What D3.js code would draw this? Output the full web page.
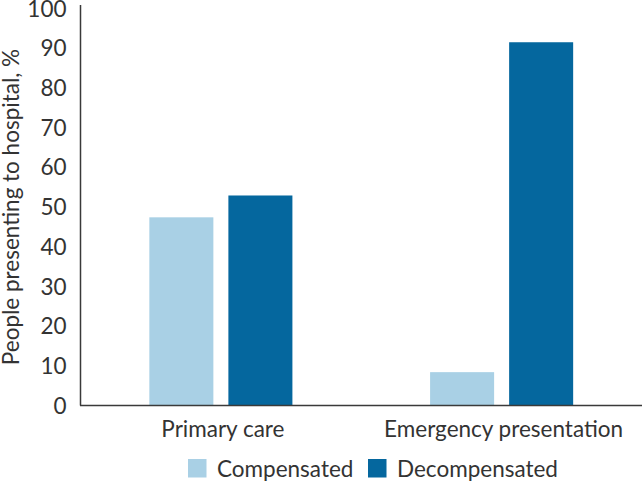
<!DOCTYPE html>
<html>
<head>
<meta charset="utf-8">
<script src="https://cdn.jsdelivr.net/npm/d3@7"></script>
<style>
  html, body { margin: 0; padding: 0; background: #fff; }
  svg { display: block; font-family: Lato, "Open Sans", sans-serif; }
</style>
</head>
<body>
<svg id="chart" width="642" height="481"></svg>
<script>
const categories = ["Primary care", "Emergency presentation"];
const seriesNames = ["Compensated", "Decompensated"];
const compensated = [47.4, 8.4];
const decompensated = [52.9, 91.5];
const yTicks = [0, 10, 20, 30, 40, 50, 60, 70, 80, 90, 100];
const colors = ["#a9d0e5", "#05679e"];

const seriesValues = [compensated, decompensated];
const data = categories.map((c, i) => ({
  category: c,
  values: seriesNames.map((s, j) => ({ series: s, value: seriesValues[j][i] }))
}));

const svg = d3.select("#chart");
const textColor = "#333333";
const fontSize = 22.5;

const x0 = d3.scaleBand().domain(categories).range([80.5, 642]).paddingInner(0).paddingOuter(0);
const x1 = d3.scaleBand().domain(seriesNames).range([0, x0.bandwidth()])
  .paddingInner(0.19).paddingOuter(0.871);
const y = d3.scaleLinear().domain([0, 100]).range([405.5, 8.5]);
const color = d3.scaleOrdinal().domain(seriesNames).range(colors);

// bars
const groups = svg.append("g").selectAll("g").data(data).join("g")
  .attr("transform", d => `translate(${x0(d.category)},0)`);
groups.selectAll("rect").data(d => d.values).join("rect")
  .attr("x", d => x1(d.series))
  .attr("width", x1.bandwidth())
  .attr("y", d => y(d.value))
  .attr("height", d => y(0) - y(d.value))
  .attr("fill", d => color(d.series));

// y axis
const yAxis = d3.axisLeft(y).tickValues(yTicks).tickSize(0).tickPadding(14).tickFormat(d3.format("d"));
const gy = svg.append("g").attr("transform", "translate(80.5,0)").call(yAxis);
gy.select(".domain").remove();
gy.selectAll("text").attr("font-size", fontSize).attr("fill", textColor)
  .attr("dy", "0.34em")
  .attr("font-family", "Lato, 'Open Sans', sans-serif");
svg.append("line").attr("x1", 80.5).attr("x2", 80.5).attr("y1", 5).attr("y2", y(0))
  .attr("stroke", "#3a3a3a").attr("stroke-width", 1.5);

// x axis
const xAxis = d3.axisBottom(x0).tickSize(0).tickPadding(0);
const gx = svg.append("g").attr("transform", `translate(0,${y(0)})`).call(xAxis);
gx.select(".domain").remove();
gx.selectAll("text").attr("font-size", fontSize).attr("fill", textColor)
  .attr("dy", null).attr("y", 31.5).attr("dx", 2)
  .attr("font-family", "Lato, 'Open Sans', sans-serif");
svg.append("line").attr("x1", 80).attr("x2", 642).attr("y1", y(0)).attr("y2", y(0))
  .attr("stroke", "#3a3a3a").attr("stroke-width", 1.5);

// y title
svg.append("text")
  .attr("transform", `translate(18.5,${(y(0) + y(100)) / 2}) rotate(-90)`)
  .attr("text-anchor", "middle")
  .attr("font-size", fontSize)
  .attr("fill", textColor)
  .text("People presenting to hospital, %");

// legend
const legendX = [188, 368];
const legend = svg.append("g").selectAll("g").data(seriesNames).join("g")
  .attr("transform", (d, i) => `translate(${legendX[i]},459)`);
legend.append("rect").attr("width", 18.5).attr("height", 18.5).attr("fill", d => color(d));
legend.append("text").attr("x", 29).attr("y", 18).attr("font-size", fontSize)
  .attr("fill", textColor).text(d => d);
</script>
</body>
</html>
